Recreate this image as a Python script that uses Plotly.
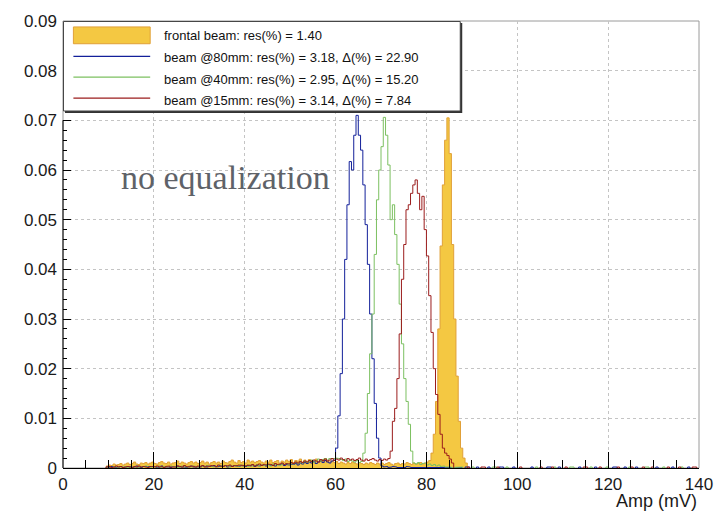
import plotly.graph_objects as go

# ---------------- data (bin width 0.5 mV) ----------------
BIN = 0.5
X_MIN, X_MAX = 0.0, 140.0

# frontal beam (filled)
frontal_noise_start = 9.5
frontal_noise = [
    0.0004, 0.0006, 0.0005, 0.0008, 0.0006, 0.0007, 0.0009, 0.0006, 0.0008, 0.0010,
    0.0007, 0.0009, 0.0012, 0.0008, 0.0007, 0.0010, 0.0009, 0.0011, 0.0008, 0.0010,
    0.0012, 0.0009, 0.0008, 0.0011, 0.0013, 0.0010, 0.0009, 0.0012, 0.0008, 0.0010,
    0.0011, 0.0014, 0.0009, 0.0012, 0.0010, 0.0008, 0.0011, 0.0013, 0.0010, 0.0012,
    0.0009, 0.0011, 0.0014, 0.0010, 0.0012, 0.0008, 0.0011, 0.0013, 0.0010, 0.0012,
    0.0009, 0.0014, 0.0011, 0.0010, 0.0013, 0.0016, 0.0012, 0.0010, 0.0015, 0.0011,
    0.0013, 0.0010, 0.0016, 0.0012, 0.0014, 0.0011, 0.0013, 0.0015, 0.0012, 0.0010,
    0.0014, 0.0012, 0.0016, 0.0011, 0.0013, 0.0015, 0.0010, 0.0014, 0.0012, 0.0016,
    0.0013, 0.0017, 0.0011, 0.0015, 0.0014, 0.0018, 0.0012, 0.0016, 0.0013, 0.0017,
    0.0015, 0.0012, 0.0018, 0.0014, 0.0016, 0.0013, 0.0019, 0.0015, 0.0012, 0.0014,
    0.0011, 0.0013, 0.0009, 0.0012, 0.0010, 0.0008, 0.0011, 0.0009, 0.0012, 0.0010,
    0.0008, 0.0011, 0.0009, 0.0007, 0.0010, 0.0008, 0.0011, 0.0009, 0.0007, 0.0010,
    0.0008, 0.0010, 0.0007, 0.0009, 0.0011, 0.0008, 0.0006, 0.0009, 0.0010, 0.0007,
    0.0009, 0.0008, 0.0011, 0.0009, 0.0007, 0.0010, 0.0008, 0.0009, 0.0011, 0.0008,
    0.0010, 0.0012,
]
frontal_peak_start = 80.5
frontal_peak = [0.0015, 0.003, 0.0068, 0.0134, 0.028, 0.0447, 0.057, 0.066, 0.0705,
                0.0633, 0.045, 0.030, 0.0185, 0.0094, 0.004, 0.002, 0.001]

# beam @80mm (blue)
blue_noise_start = 9.5
blue_noise = [
    0.0002, 0.0001, 0.0003, 0.0002, 0.0001, 0.0002, 0.0003, 0.0001, 0.0002, 0.0002,
    0.0003, 0.0001, 0.0002, 0.0004, 0.0002, 0.0001, 0.0003, 0.0002, 0.0002, 0.0003,
    0.0002, 0.0003, 0.0001, 0.0002, 0.0004, 0.0002, 0.0003, 0.0002, 0.0001, 0.0003,
    0.0002, 0.0004, 0.0002, 0.0003, 0.0002, 0.0001, 0.0003, 0.0004, 0.0002, 0.0003,
    0.0003, 0.0002, 0.0004, 0.0003, 0.0002, 0.0004, 0.0003, 0.0005, 0.0002, 0.0003,
    0.0004, 0.0003, 0.0005, 0.0002, 0.0004, 0.0003, 0.0005, 0.0004, 0.0003, 0.0005,
    0.0004, 0.0003, 0.0005, 0.0004, 0.0006, 0.0003, 0.0005, 0.0004, 0.0006, 0.0005,
    0.0004, 0.0007, 0.0005, 0.0006, 0.0004, 0.0007, 0.0006, 0.0008, 0.0005, 0.0007,
    0.0006, 0.0008, 0.0007, 0.0009, 0.0006, 0.0010, 0.0008, 0.0011, 0.0009, 0.0012,
    0.0010, 0.0013, 0.0009, 0.0012, 0.0014, 0.0011, 0.0015, 0.0012, 0.0010, 0.0014,
    0.0016,
]
blue_peak_start = 60.0
blue_peak = [0.004, 0.0105, 0.019, 0.030, 0.042, 0.053, 0.0617, 0.060, 0.067, 0.071,
             0.067, 0.064, 0.057, 0.049, 0.041, 0.031, 0.022, 0.013, 0.006, 0.002]
blue_post_start = 70.0
blue_post = [0.0004, 0.0002, 0.0003, 0.0001, 0.0002, 0.0003, 0.0002, 0.0001, 0.0002, 0.0002,
             0.0001, 0.0003, 0.0002, 0.0001, 0.0002, 0.0001, 0.0002, 0.0001, 0.0001, 0.0002,
             0.0001, 0.0002, 0.0001, 0.0001, 0.0002, 0.0001, 0.0001, 0.0002, 0.0001, 0.0001,
             0.0001, 0.0002, 0.0001, 0.0001, 0.0001, 0.0001]
blue_tail_bins = [88.5, 89.0, 91.0, 93.5, 96.0, 96.5, 99.0, 103.0, 106.5, 107.0, 109.0,
                  113.5, 117.0, 121.0, 121.5, 123.5, 126.0, 130.5, 134.0, 137.5]
blue_tail_vals = [0.0002] * 20

# beam @40mm (green)
green_noise_start = 9.5
green_noise = [
    0.0001, 0.0002, 0.0001, 0.0003, 0.0002, 0.0001, 0.0002, 0.0002, 0.0003, 0.0001,
    0.0002, 0.0003, 0.0002, 0.0001, 0.0002, 0.0003, 0.0002, 0.0004, 0.0002, 0.0001,
    0.0003, 0.0002, 0.0002, 0.0004, 0.0001, 0.0003, 0.0002, 0.0003, 0.0004, 0.0002,
    0.0003, 0.0001, 0.0002, 0.0004, 0.0003, 0.0002, 0.0003, 0.0002, 0.0004, 0.0003,
    0.0002, 0.0004, 0.0003, 0.0002, 0.0005, 0.0003, 0.0004, 0.0002, 0.0003, 0.0005,
    0.0004, 0.0003, 0.0005, 0.0004, 0.0002, 0.0004, 0.0005, 0.0003, 0.0004, 0.0006,
    0.0004, 0.0005, 0.0003, 0.0006, 0.0004, 0.0005, 0.0007, 0.0004, 0.0006, 0.0005,
    0.0007, 0.0006, 0.0004, 0.0008, 0.0006, 0.0007, 0.0005, 0.0008, 0.0007, 0.0009,
    0.0007, 0.0010, 0.0008, 0.0011, 0.0009, 0.0012, 0.0010, 0.0014, 0.0011, 0.0013,
    0.0016, 0.0012, 0.0015, 0.0018, 0.0014, 0.0017, 0.0019, 0.0016, 0.0019, 0.0018,
    0.0019, 0.0020, 0.0019, 0.0017, 0.0015, 0.0018, 0.0013, 0.0016, 0.0014, 0.0012,
    0.0015, 0.0011, 0.0013,
]
green_peak_start = 66.0
green_peak = [0.003, 0.007, 0.015, 0.023, 0.031, 0.043, 0.054, 0.060, 0.0647, 0.0706,
              0.067, 0.061, 0.050, 0.053, 0.047, 0.041, 0.033, 0.025, 0.018, 0.0134,
              0.0088, 0.0034]
green_post_start = 77.0
green_post = [0.0010, 0.0008, 0.0011, 0.0007, 0.0009, 0.0010, 0.0006, 0.0008, 0.0005, 0.0007,
              0.0004, 0.0006, 0.0003, 0.0004, 0.0002, 0.0003, 0.0002, 0.0001, 0.0002, 0.0001,
              0.0001, 0.0002]
green_tail_bins = [90.0, 94.5, 95.0, 97.5, 104.0, 108.0, 111.5, 112.0, 116.0, 119.5,
                   124.5, 128.0, 128.5, 132.0, 136.0]
green_tail_vals = [0.0002] * 15

# beam @15mm (red)
red_noise_start = 9.5
red_noise = [
    0.0002, 0.0003, 0.0001, 0.0002, 0.0004, 0.0002, 0.0003, 0.0001, 0.0002, 0.0003,
    0.0002, 0.0001, 0.0003, 0.0002, 0.0004, 0.0002, 0.0003, 0.0002, 0.0001, 0.0003,
    0.0003, 0.0002, 0.0004, 0.0002, 0.0003, 0.0001, 0.0003, 0.0004, 0.0002, 0.0003,
    0.0002, 0.0004, 0.0003, 0.0002, 0.0005, 0.0003, 0.0002, 0.0004, 0.0003, 0.0002,
    0.0004, 0.0003, 0.0005, 0.0002, 0.0004, 0.0003, 0.0005, 0.0004, 0.0003, 0.0006,
    0.0004, 0.0003, 0.0005, 0.0004, 0.0006, 0.0003, 0.0005, 0.0004, 0.0006, 0.0005,
    0.0005, 0.0004, 0.0006, 0.0005, 0.0007, 0.0004, 0.0006, 0.0008, 0.0005, 0.0007,
    0.0006, 0.0008, 0.0007, 0.0005, 0.0009, 0.0007, 0.0008, 0.0010, 0.0007, 0.0009,
    0.0008, 0.0011, 0.0009, 0.0012, 0.0010, 0.0013, 0.0011, 0.0014, 0.0012, 0.0015,
    0.0013, 0.0016, 0.0014, 0.0012, 0.0017, 0.0015, 0.0018, 0.0014, 0.0016, 0.0019,
    0.0015, 0.0018, 0.0016, 0.0020, 0.0017, 0.0014, 0.0019, 0.0016, 0.0018, 0.0015,
    0.0017, 0.0020, 0.0016, 0.0014, 0.0018, 0.0015, 0.0017, 0.0019, 0.0016, 0.0014,
    0.0017, 0.0015, 0.0018, 0.0016, 0.0019,
]
red_peak_start = 72.0
red_peak = [0.0034, 0.0094, 0.012, 0.018, 0.027, 0.038, 0.045, 0.052, 0.053, 0.0553,
            0.057, 0.058, 0.0553, 0.052, 0.0547, 0.048, 0.0427, 0.0347, 0.0273, 0.020,
            0.0148, 0.0108, 0.0068, 0.004, 0.003, 0.0025, 0.0018, 0.001]
red_tail_bins = [89.0, 92.0, 92.5, 95.5, 100.5, 105.0, 107.5, 110.5, 114.5, 115.0,
                 118.0, 122.0, 125.0, 127.5, 129.5, 133.0, 135.5, 138.5, 139.0]
red_tail_vals = [0.0002] * 19

labels = [
    "frontal beam: res(%) = 1.40",
    "beam @80mm: res(%) = 3.18, \u0394(%) = 22.90",
    "beam @40mm: res(%) = 2.95, \u0394(%) = 15.20",
    "beam @15mm: res(%) = 3.14, \u0394(%) = 7.84",
]
y_tick_vals = [0, 0.01, 0.02, 0.03, 0.04, 0.05, 0.06, 0.07, 0.08, 0.09]
y_tick_text = ["0", "0.01", "0.02", "0.03", "0.04", "0.05", "0.06", "0.07", "0.08", "0.09"]

# ---------------- styling ----------------
ORANGE_FILL = "#F4C842"
ORANGE_LINE = "#E0A038"
BLUE = "#13209A"
GREEN = "#7CC061"
RED = "#9B1C1C"
FONT = "Liberation Sans, Arial, sans-serif"

W, H = 725, 511
ML, MR, MT, MB = 63, 20, 16, 43
PW, PH = W - ML - MR, H - MT - MB


def build(segments, sparse_bins=(), sparse_vals=()):
    n = int(round((X_MAX - X_MIN) / BIN))
    vals = [0.0] * n
    for start, lst in segments:
        i0 = int(round((start - X_MIN) / BIN))
        for k, v in enumerate(lst):
            if 0 <= i0 + k < n:
                vals[i0 + k] = v
    for b, v in zip(sparse_bins, sparse_vals):
        vals[int(round((b - X_MIN) / BIN))] = v
    return vals


def step_path(vals):
    xs, ys = [], []
    n = len(vals)
    e = lambda k: X_MIN + k * BIN
    i = 0
    while i < n:
        if vals[i] > 0:
            j = i
            while j + 1 < n and vals[j + 1] > 0:
                j += 1
            xs.append(e(i)); ys.append(0)
            for k in range(i, j + 1):
                xs += [e(k), e(k + 1)]
                ys += [vals[k], vals[k]]
            xs.append(e(j + 1)); ys.append(0)
            xs.append(None); ys.append(None)
            i = j + 1
        else:
            i += 1
    return xs, ys


frontal = build([(frontal_noise_start, frontal_noise), (frontal_peak_start, frontal_peak)])
blue = build([(blue_noise_start, blue_noise), (blue_peak_start, blue_peak),
              (blue_post_start, blue_post)], blue_tail_bins, blue_tail_vals)
green = build([(green_noise_start, green_noise), (green_peak_start, green_peak),
               (green_post_start, green_post)], green_tail_bins, green_tail_vals)
red = build([(red_noise_start, red_noise), (red_peak_start, red_peak)],
            red_tail_bins, red_tail_vals)

fig = go.Figure()
fx, fy = step_path(frontal)
fig.add_trace(go.Scatter(x=fx, y=fy, mode="lines", fill="toself", fillcolor=ORANGE_FILL,
                         line=dict(color=ORANGE_LINE, width=1), name=labels[0],
                         showlegend=False, hoverinfo="skip"))
for vals, col, name in [(blue, BLUE, labels[1]), (green, GREEN, labels[2]), (red, RED, labels[3])]:
    xs, ys = step_path(vals)
    fig.add_trace(go.Scatter(x=xs, y=ys, mode="lines", line=dict(color=col, width=1),
                             name=name, showlegend=False, hoverinfo="skip"))

# dummy trace so the tick-mark axis is drawn
fig.add_trace(go.Scatter(x=[0], y=[0], yaxis="y2", mode="markers",
                         marker=dict(opacity=0), showlegend=False, hoverinfo="skip"))

fig.update_layout(
    width=W, height=H,
    margin=dict(l=ML, r=MR, t=MT, b=MB, pad=0),
    paper_bgcolor="white", plot_bgcolor="white",
    font=dict(family=FONT, color="#1a1a1a"),
    showlegend=False,
    xaxis=dict(range=[X_MIN, X_MAX], tick0=0, dtick=20, ticks="inside", ticklen=16,
               tickwidth=1, tickcolor="black", showline=True, linecolor="black",
               linewidth=1, showgrid=True, gridcolor="#c4c4c4", griddash="dot",
               gridwidth=1, zeroline=False, tickfont=dict(size=17, family=FONT),
               ticklabelstandoff=1,
               minor=dict(dtick=5, ticks="inside", ticklen=8, tickcolor="black",
                          tickwidth=1, showgrid=False)),
    yaxis=dict(range=[0, 0.09], tickvals=y_tick_vals, ticktext=y_tick_text, ticks="",
               showline=False, showgrid=True, gridcolor="#c4c4c4", griddash="dot",
               gridwidth=1, zeroline=False, tickfont=dict(size=17, family=FONT),
               ticklabelstandoff=5),
    yaxis2=dict(range=[0, 0.09], overlaying="y", side="left", anchor="x",
                tickvals=y_tick_vals[:8], ticks="inside", ticklen=8, tickwidth=1,
                tickcolor="black", showticklabels=False, showgrid=False, showline=False,
                zeroline=False,
                minor=dict(tickvals=[k * 0.002 for k in range(36)], ticks="inside",
                           ticklen=4, tickcolor="black", tickwidth=1, showgrid=False)),
)

shapes = []
# gray frame
shapes.append(dict(type="rect", xref="paper", yref="paper", x0=0, x1=1, y0=0, y1=1,
                   line=dict(color="#9a9a9a", width=1), layer="below"))
# black part of the left axis
shapes.append(dict(type="line", xref="paper", yref="y", x0=0, x1=0, y0=0, y1=0.07,
                   line=dict(color="black", width=1)))

# legend box (manual, ROOT style)
px = lambda p: (p - ML) / PW
py = lambda p: 1 - (p - MT) / PH
shapes.append(dict(type="rect", xref="paper", yref="paper", x0=px(65), x1=px(466),
                   y0=py(109), y1=py(18), fillcolor="#333333", line=dict(width=0)))
shapes.append(dict(type="rect", xref="paper", yref="paper", x0=px(63.5), x1=px(464),
                   y0=py(107), y1=py(16.5), fillcolor="white",
                   line=dict(color="#444444", width=1)))
shapes.append(dict(type="rect", xref="paper", yref="paper", x0=px(73.5), x1=px(151),
                   y0=py(39), y1=py(22), fillcolor=ORANGE_FILL,
                   line=dict(color=ORANGE_LINE, width=1)))
for yy, col in [(51.7, BLUE), (72.7, GREEN), (94.0, RED)]:
    shapes.append(dict(type="line", xref="paper", yref="paper", x0=px(73.5), x1=px(151),
                       y0=py(yy), y1=py(yy), line=dict(color=col, width=1.2)))
fig.update_layout(shapes=shapes)

annotations = []
for lab, yy in zip(labels, [30.7, 53.3, 75.3, 96.7]):
    annotations.append(dict(text=lab, xref="paper", yref="paper", x=px(163), y=py(yy),
                            xanchor="left", yanchor="middle", showarrow=False,
                            font=dict(size=13, family=FONT, color="#111111")))
annotations.append(dict(text="no equalization", xref="paper", yref="paper",
                        x=px(227), y=py(174), xanchor="center", yanchor="middle",
                        showarrow=False,
                        font=dict(size=34, family="Liberation Serif, DejaVu Serif, serif",
                                  color="#5e6268")))
annotations.append(dict(text="Amp (mV)", xref="paper", yref="paper", x=1.0, y=py(501),
                        xanchor="right", yanchor="middle", showarrow=False,
                        font=dict(size=18, family=FONT, color="#1a1a1a")))
fig.update_layout(annotations=annotations)

fig.write_html("out.html")
